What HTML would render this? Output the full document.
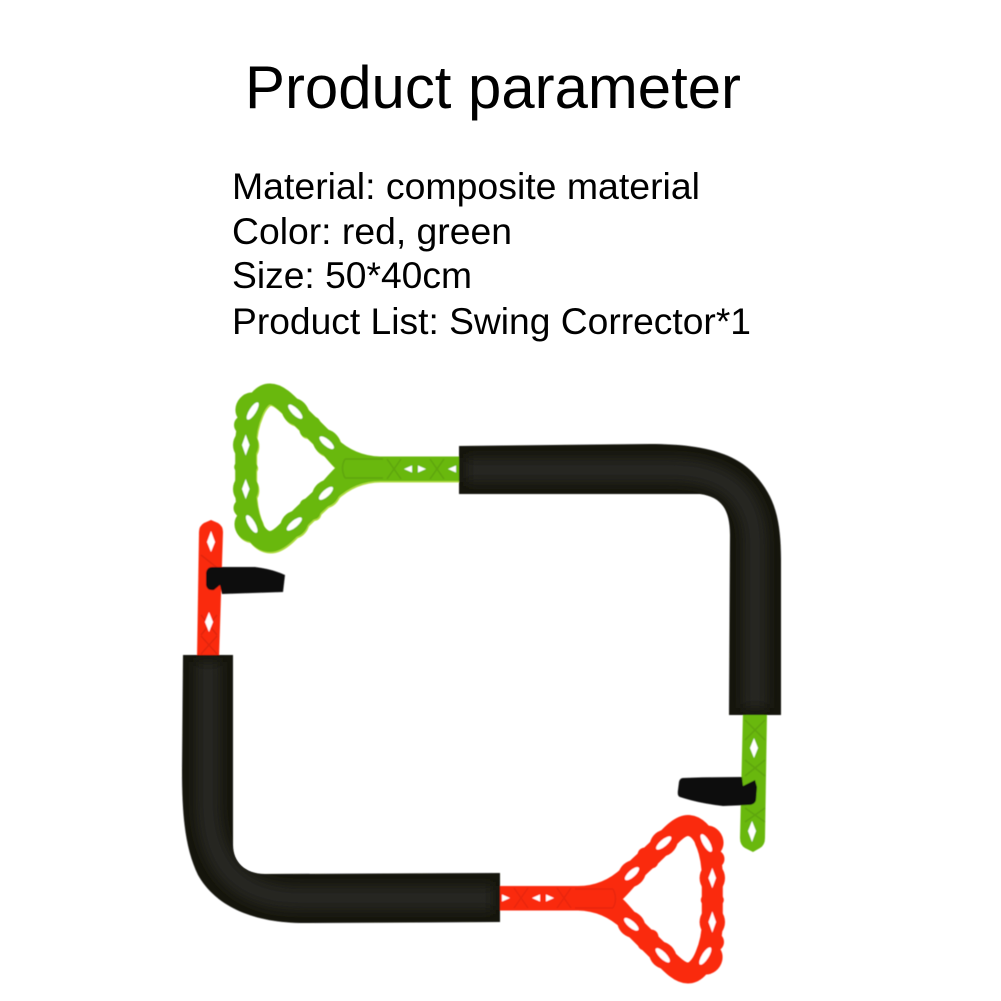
<!DOCTYPE html>
<html><head><meta charset="utf-8"><style>
html,body{margin:0;padding:0;background:#fff}
svg{display:block}
text{font-family:"Liberation Sans",Arial,sans-serif;fill:#000}
</style></head><body>
<svg width="1001" height="1001" viewBox="0 0 1001 1001" xmlns="http://www.w3.org/2000/svg">
<defs>
<filter id="soft" x="-5%" y="-5%" width="110%" height="110%"><feGaussianBlur stdDeviation="0.5"/></filter>
<filter id="glow" x="-20%" y="-20%" width="140%" height="140%"><feGaussianBlur stdDeviation="6"/></filter>
<clipPath id="tubes">
<path d="M459 446L650 444C700 444 735 452 755 475C775 497 781 520 781 560L781 715H729L730 535C730 510 722 497 700 494L459 494Z"/>
<path d="M183 655H233L233 845C233 862 245 874 265 874L500 873V922L300 923C250 922 215 905 198 875C186 850 182 820 182 770Z"/>
</clipPath>
<g id="o">
<path fill="none" stroke="currentColor" stroke-width="21" stroke-linejoin="round" d="M352 468C342 462 334 451 326.700 442.700C316 432 306 422 295.300 411.700C286 402 278 394 270 394C262 394 256 403 252.700 411C248 422 245.700 434 245.700 445L245.700 489C245.700 502 248 514 251.700 524C255 534 262 541.500 270 541.500C278 541.500 287 532 294.300 524C305 512 315 505 326 493.300C334 485 342 474 352 468Z"/>
<g fill="currentColor">
<path d="M460 456.500L380 456.500Q355 456 336 438L341 468L336 499Q355 481 380 481L460 481Z"/>
<ellipse cx="250" cy="408" rx="16" ry="14" transform="rotate(-58 250 408)"/>
<ellipse cx="295.300" cy="411.700" rx="15" ry="12.500" transform="rotate(45 295.300 411.700)"/>
<ellipse cx="326.700" cy="442.700" rx="15" ry="12.500" transform="rotate(40 326.700 442.700)"/>
<ellipse cx="310" cy="427" rx="9" ry="11.800" transform="rotate(45 310 427)"/>
<ellipse cx="245" cy="425" rx="11" ry="10"/>
<ellipse cx="245.700" cy="445" rx="12.700" ry="15"/>
<ellipse cx="245.700" cy="489" rx="12.700" ry="15"/>
<ellipse cx="245.700" cy="467" rx="11.500" ry="8"/>
<ellipse cx="245" cy="508" rx="11.500" ry="10"/>
<ellipse cx="249" cy="526" rx="16" ry="14" transform="rotate(60 249 526)"/>
<ellipse cx="294.300" cy="524" rx="15" ry="12.500" transform="rotate(-40 294.300 524)"/>
<ellipse cx="326" cy="493.300" rx="15" ry="12.500" transform="rotate(-42 326 493.300)"/>
<ellipse cx="310" cy="509" rx="9" ry="11.800" transform="rotate(-45 310 509)"/>
</g>
</g>
<g id="d" fill="#fff">
<ellipse cx="252.700" cy="411" rx="10" ry="3.400" transform="rotate(-58 252.700 411)"/>
<ellipse cx="295.300" cy="411.700" rx="9.500" ry="3.400" transform="rotate(45 295.300 411.700)"/>
<ellipse cx="326.700" cy="442.700" rx="9" ry="3.400" transform="rotate(40 326.700 442.700)"/>
<path d="M245.700 434.500L249.500 445L245.700 455.500L242 445Z"/>
<path d="M245.700 479L249.500 489L245.700 499L242 489Z"/>
<ellipse cx="251.700" cy="524" rx="10" ry="3.400" transform="rotate(60 251.700 524)"/>
<ellipse cx="294.300" cy="524" rx="9.500" ry="3.400" transform="rotate(-40 294.300 524)"/>
<ellipse cx="326" cy="493.300" rx="9" ry="3.400" transform="rotate(-42 326 493.300)"/>
<path d="M404 469L412 465.500V472.500Z"/>
<path d="M426 469L418 465.500V472.500Z"/>
<path d="M448 469L456 465.500V472.500Z"/>
</g>
<g id="x" fill="none" stroke="#000" stroke-opacity=".1" stroke-width="1.500">
<path d="M387 459L401 479M401 459L387 479M430 459L444 479M444 459L430 479M345 459H383M345 478H383M345 459Q340 468 345 478"/>
</g>
</defs>

<rect width="1001" height="1001" fill="#fff"/>

<text x="245" y="108" font-size="60" textLength="496" lengthAdjust="spacingAndGlyphs">Product parameter</text>
<text x="232" y="199" font-size="37" textLength="468" lengthAdjust="spacingAndGlyphs">Material: composite material</text>
<text x="232" y="244" font-size="37" textLength="280" lengthAdjust="spacingAndGlyphs">Color: red, green</text>
<text x="232" y="288" font-size="37" textLength="240" lengthAdjust="spacingAndGlyphs">Size: 50*40cm</text>
<text x="232" y="334" font-size="37" textLength="519" lengthAdjust="spacingAndGlyphs">Product List: Swing Corrector*1</text>

<g filter="url(#soft)">
<!-- green handle -->
<use href="#o" color="#aedb3f" transform="translate(1,1.500)"/>
<use href="#o" color="#69b80e"/>
<use href="#x"/>
<use href="#d"/>

<!-- red handle -->
<g transform="rotate(180 479 683.500)">
<use href="#o" color="#fa2a10"/>
<use href="#x" opacity=".7"/>
<use href="#d"/>
</g>

<!-- red short stalk -->
<path fill="#fa2a10" d="M197 658L199 532Q199 526 204 523L211 520L218 523Q223 526 223 532L219 658Z"/>
<g fill="none" stroke="#000" stroke-opacity=".1" stroke-width="1.500">
<path d="M201 615L217 635M217 615L201 635M201 636L217 654M217 636L201 654M201 555L220 570"/>
</g>
<path fill="#fff" d="M211 531L215 542L211 552L207 542Z"/>
<path fill="#fff" d="M209 612L213 622L209 632L205 622Z"/>
<path fill="#111" d="M212 567L255 567Q272 569 285 575L283 592L222 594L220 585L214 590Q207 591 206 585L206 573Q207 567 212 567Z"/>

<!-- green short stalk -->
<path fill="#69b80e" d="M743 712H767L765 838Q765 845 760 848L753 852L745 848Q740 845 740 838Z"/>
<g fill="none" stroke="#000" stroke-opacity=".1" stroke-width="1.500">
<path d="M745 720L765 740M765 720L745 740M745 760L765 776M765 760L745 776M745 808L765 822M765 808L745 822"/>
</g>
<path fill="#fff" d="M754 738L758 748L754 758L750 748Z"/>
<path fill="#fff" d="M752 821L756 831L752 842L748 831Z"/>
<path fill="#111" d="M683 778Q710 777 742 777L743 786L755 780L757 787L756 800Q755 805 748 805L723 806Q698 803 680 797Q677 796 678 790L679 782Q680 778 683 778Z"/>

<!-- black tubes -->
<path fill="#131311" d="M459 446L650 444C700 444 735 452 755 475C775 497 781 520 781 560L781 715H729L730 535C730 510 722 497 700 494L459 494Z"/>
<path fill="#131311" d="M183 655H233L233 845C233 862 245 874 265 874L500 873V922L300 923C250 922 215 905 198 875C186 850 182 820 182 770Z"/>
</g>
<g clip-path="url(#tubes)">
<path fill="none" stroke="#252523" stroke-width="24" filter="url(#glow)" d="M466 470H670Q755 470 755 545V708"/>
<path fill="none" stroke="#252523" stroke-width="24" filter="url(#glow)" d="M208 662V800Q208 898 300 898H493"/>
</g>
</svg>
</body></html>
